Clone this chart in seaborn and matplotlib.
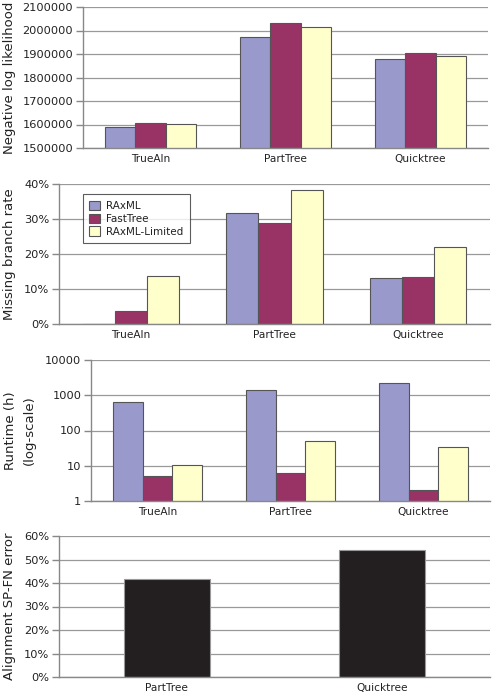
import pandas as pd
import matplotlib
matplotlib.use('Agg')
import matplotlib.pyplot as plt
import seaborn as sns
from matplotlib.ticker import PercentFormatter, FixedLocator, NullFormatter

# data
alignments = ['TrueAln', 'PartTree', 'Quicktree']
methods = ['RAxML', 'FastTree', 'RAxML-Limited']

neg_loglik = {
    'RAxML': [1589000, 1973000, 1878000],
    'FastTree': [1607000, 2032000, 1904000],
    'RAxML-Limited': [1601000, 2013000, 1891000],
}
missing_rate = {
    'RAxML': [0.0, 31.8, 13.1],
    'FastTree': [3.8, 29.0, 13.4],
    'RAxML-Limited': [13.8, 38.4, 21.9],
}
runtime_h = {
    'RAxML': [660, 1410, 2180],
    'FastTree': [5.2, 6.4, 2.1],
    'RAxML-Limited': [10.3, 51, 33],
}
sp_aln = ['PartTree', 'Quicktree']
sp_fn_error = [41.6, 54.2]

colors = {'RAxML': '#9999cc', 'FastTree': '#993366', 'RAxML-Limited': '#ffffcc'}


def long_df(d):
    rows = []
    for m in methods:
        for a, v in zip(alignments, d[m]):
            rows.append({'aln': a, 'method': m, 'value': v})
    return pd.DataFrame(rows)


sns.set_theme(style='white')
plt.rcParams['font.family'] = ['DejaVu Sans']

fig = plt.figure(figsize=(4.92, 6.97), dpi=100)
W, H = 492, 697


def add_ax(left, right, top, bottom):
    return fig.add_axes([left / W, 1 - bottom / H, (right - left) / W, (bottom - top) / H])


def style(ax, ncat, label, label_right_px, left_px, width_px):
    ax.set_xlabel('')
    ax.set_ylabel(label, fontsize=9.5, color='#222222', linespacing=1.55)
    ax.yaxis.set_label_coords((label_right_px - left_px) / width_px, 0.5)
    ax.set_xlim(-0.5, ncat - 0.5)
    ax.grid(axis='y', color='#999999', linewidth=0.9)
    ax.set_axisbelow(True)
    for s in ['top', 'right']:
        ax.spines[s].set_visible(False)
    for s in ['left', 'bottom']:
        ax.spines[s].set_color('#888888')
        ax.spines[s].set_linewidth(1.0)
    ax.tick_params(axis='x', which='major', length=0, labelsize=7.6, colors='#222222', pad=4)
    ax.xaxis.set_minor_locator(FixedLocator([i - 0.5 for i in range(ncat + 1)]))
    ax.xaxis.set_minor_formatter(NullFormatter())
    ax.tick_params(axis='x', which='minor', length=5, width=1, color='#888888', direction='out')
    ax.tick_params(axis='y', length=5, width=1, color='#888888', direction='out',
                   labelsize=8.2, labelcolor='#222222', left=True, pad=2)


bar_kw = dict(x='aln', y='value', hue='method', hue_order=methods, order=alignments,
              palette=colors, edgecolor='#555555', linewidth=0.8, width=0.67, saturation=1)

# panel 1
ax1 = add_ax(83, 488, 7, 148)
sns.barplot(data=long_df(neg_loglik), ax=ax1, legend=False, **bar_kw)
ax1.set_ylim(1500000, 2100000)
ax1.set_yticks(range(1500000, 2100001, 100000))
ax1.set_yticklabels([str(v) for v in range(1500000, 2100001, 100000)])
style(ax1, 3, 'Negative log likelihood', 16, 83, 405)

# panel 2
ax2 = add_ax(59, 490, 184, 324)
sns.barplot(data=long_df(missing_rate), ax=ax2, **bar_kw)
ax2.set_ylim(0, 40)
ax2.set_yticks([0, 10, 20, 30, 40])
ax2.yaxis.set_major_formatter(PercentFormatter(100, decimals=0))
style(ax2, 3, 'Missing branch rate', 16, 59, 431)
leg = ax2.legend(loc='upper left', bbox_to_anchor=(0.056, 0.925), borderaxespad=0,
                 frameon=True, fancybox=False, fontsize=7.5, handlelength=1.0,
                 handleheight=1.0, handletextpad=0.6, labelspacing=0.25,
                 borderpad=0.6, title=None)
leg.get_frame().set_edgecolor('#333333')
leg.get_frame().set_linewidth(0.8)
for t in leg.get_texts():
    t.set_color('#222222')

# panel 3
ax3 = add_ax(91, 490, 360, 501)
sns.barplot(data=long_df(runtime_h), ax=ax3, legend=False, **bar_kw)
ax3.set_yscale('log')
ax3.set_ylim(1, 10000)
ticks = [1, 10, 100, 1000, 10000]
ax3.yaxis.set_major_locator(FixedLocator(ticks))
ax3.set_yticklabels([str(t) for t in ticks])
ax3.yaxis.set_minor_formatter(NullFormatter())
ax3.tick_params(axis='y', which='minor', length=0)
style(ax3, 3, 'Runtime (h)\n(log-scale)', 36, 91, 399)

# panel 4
ax4 = add_ax(59, 490, 536, 677)
sns.barplot(x=sp_aln, y=sp_fn_error, ax=ax4, color='#231f20', saturation=1,
            edgecolor='#999999', linewidth=0.8, width=0.4)
ax4.set_ylim(0, 60)
ax4.set_yticks(range(0, 61, 10))
ax4.yaxis.set_major_formatter(PercentFormatter(100, decimals=0))
style(ax4, 2, 'Alignment SP-FN error', 16, 59, 431)

fig.savefig('out.png', dpi=100)
